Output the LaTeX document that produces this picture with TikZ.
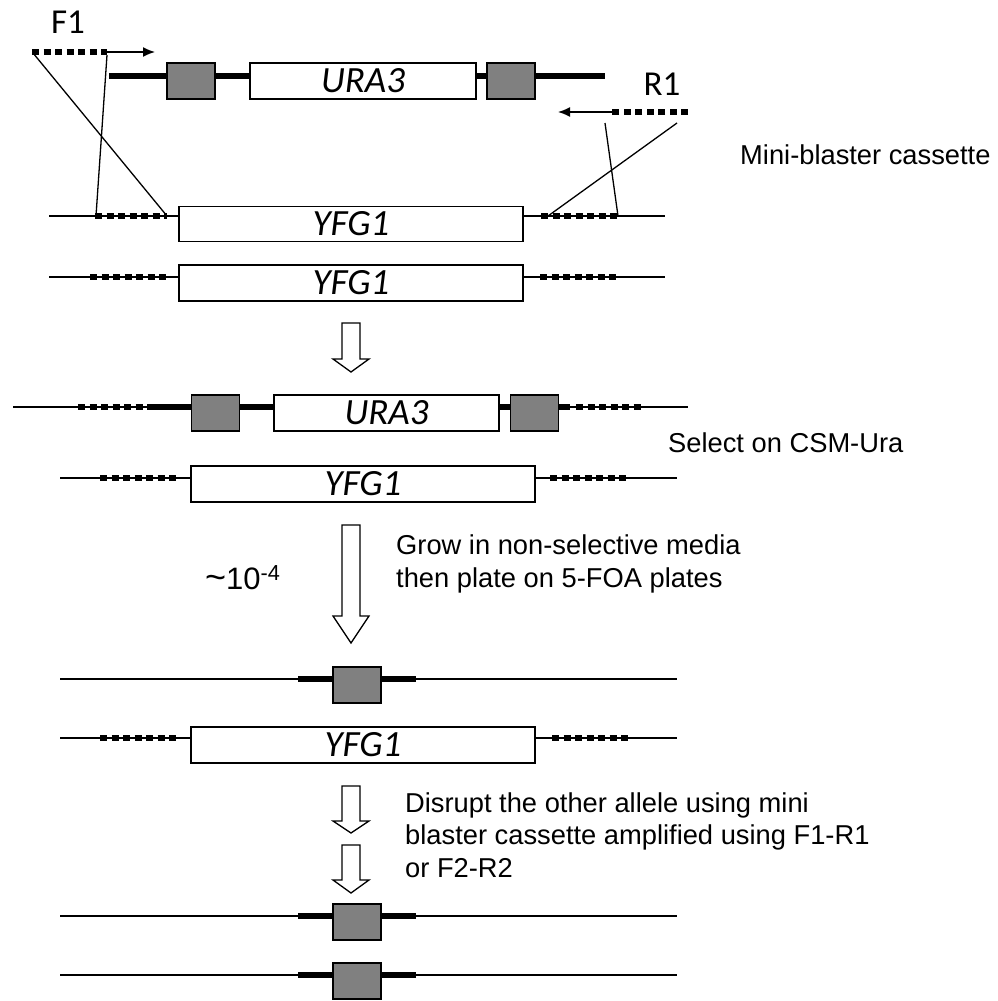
\documentclass[tikz,border=0pt]{standalone}
\usepackage{fontspec}
\setmainfont{Liberation Sans}
\newfontfamily\calibri{Carlito}
\usetikzlibrary{arrows.meta}
\tikzset{
  chrom/.style={line width=1.5pt},
  marker/.style={line width=6pt},
  homol/.style={line width=5.5pt,dash pattern=on 7pt off 4.5pt},
  gene/.style={draw,fill=white,line width=1.3pt,minimum height=36pt,inner sep=0pt,
    font=\calibri\itshape\fontsize{37}{37}\selectfont},
  flank/.style={draw,fill=gray,line width=1.3pt,minimum width=48pt,minimum height=36pt,inner sep=0pt},
  primer/.style={line width=1.5pt,-{Latex[length=12pt,width=10pt]}},
  cross/.style={line width=1.3pt},
  blockarrow/.style={draw,fill=white,line width=1.3pt,line join=miter},
  note/.style={anchor=west,align=left,inner sep=0pt,font=\fontsize{27.3}{32.5}\selectfont},
  plabel/.style={inner sep=0pt,font=\calibri\fontsize{35}{35}\selectfont}
}
\begin{document}
\begin{tikzpicture}[x=1pt,y=-1pt]
\useasboundingbox (0,0) rectangle (998,1001);
% primers
\node[plabel] (F1) at (68,22) {F1};
\node[plabel] (R1) at (662,84) {R1};
\coordinate (F1a) at (32,52);
\coordinate (F1b) at (107,52);
\coordinate (F1c) at (155,52);
\coordinate (R1a) at (688,112);
\coordinate (R1b) at (612,112);
\coordinate (R1c) at (558,112);
\draw[homol] (F1a) -- (F1b);
\draw[primer] (F1b) -- (F1c);
\draw[homol] (R1a) -- (R1b);
\draw[primer] (R1b) -- (R1c);
% mini-blaster cassette
\draw[marker] (109,76) -- (605,76);
\node[flank] (cA1) at (191,81) {};
\node[gene,minimum width=226pt] (uraA) at (363,81) {URA3};
\node[flank] (cA2) at (511,81) {};
\node[note] (mini) at (740,155) {Mini-blaster cassette};
% wild type alleles
\draw[chrom] (49,216) -- (665,216);
\draw[homol] (95,216) coordinate (hB1) -- (167,216) coordinate (hB2);
\draw[homol] (541,216) coordinate (hB3) -- (618,216) coordinate (hB4);
\node[gene,minimum width=344pt,minimum height=35pt] (yfgB) at (351,224) {YFG1};
\draw[chrom] (49,277) -- (665,277);
\draw[homol] (90,277) -- (168,277);
\draw[homol] (540,277) -- (618,277);
\node[gene,minimum width=344pt] (yfgC) at (351,283) {YFG1};
% homology arms
\draw[cross] (33,53) -- (hB2);
\draw[cross] (107,55) -- (96,216);
\draw[cross] (677,123) -- (548,216);
\draw[cross] (605,123) -- (618,216);
% stage arrows
\foreach \top/\neck/\tip in {323/359/372,525/616/643,786/821/833,845/880/893}
  \draw[blockarrow] (342,\top) -- (360,\top) -- (360,\neck) -- (369,\neck) -- (351,\tip)
    -- (333,\neck) -- (342,\neck) -- cycle;
% first allele disrupted
\draw[chrom] (13,407) -- (688,407);
\draw[homol] (78,407) -- (148,407);
\draw[marker] (148,407) -- (570,407);
\draw[homol] (576,407) -- (641,407);
\node[flank] (cD1) at (215.5,413) {};
\node[gene,minimum width=225pt] (uraD) at (386.5,413) {URA3};
\node[flank] (cD2) at (534.5,413) {};
\node[note] (select) at (668,443) {Select on CSM-Ura};
\draw[chrom] (60,478) -- (677,478);
\draw[homol] (100,478) -- (178,478);
\draw[homol] (550,478) -- (628,478);
\node[gene,minimum width=344pt] (yfgE) at (363,484) {YFG1};
\node[note,font=\fontsize{31}{32}\selectfont] (freq) at (205,578) {{\fontsize{36}{32}\selectfont\textasciitilde}10\textsuperscript{-4}};
\node[note] (grow) at (396,564) {Grow in non-selective media\\then plate on 5-FOA plates};
% URA3 popped out
\draw[chrom] (60,679) -- (677,679);
\draw[marker] (298,679) -- (416,679);
\node[flank] (cF) at (357,685) {};
\draw[chrom] (60,738) -- (677,738);
\draw[homol] (100,738) -- (180,738);
\draw[homol] (552,738) -- (630,738);
\node[gene,minimum width=344pt] (yfgG) at (363,745) {YFG1};
\node[note] (disrupt) at (405,835) {Disrupt the other allele using mini\\blaster cassette amplified using F1-R1\\or F2-R2};
% both alleles disrupted
\draw[chrom] (60,916) -- (677,916);
\draw[marker] (298,916) -- (416,916);
\node[flank] (cH) at (357,922) {};
\draw[chrom] (60,975) -- (677,975);
\draw[marker] (298,975) -- (416,975);
\node[flank] (cI) at (357,981) {};
\end{tikzpicture}
\end{document}
